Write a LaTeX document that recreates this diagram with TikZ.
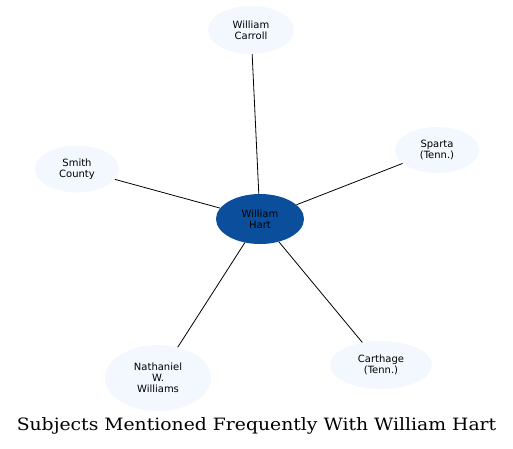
\documentclass[tikz,border=0pt]{standalone}
\usepackage{fontspec}
\newfontfamily\labelfont{DejaVu Sans}
\newfontfamily\titlefont{DejaVu Serif}
\usetikzlibrary{shapes.geometric}
\definecolor{hubblue}{HTML}{0B4F9C}
\definecolor{leaffill}{HTML}{F3F7FE}
\tikzset{
  leaf/.style={ellipse, fill=leaffill, draw=none, inner sep=0pt, align=center,
    font=\labelfont\fontsize{10}{10.8}\selectfont, text=black},
  hub/.style={leaf, fill=hubblue},
  link/.style={draw=black, line width=0.8pt}
}
\begin{document}
\begin{tikzpicture}[x=1pt,y=-1pt]
\useasboundingbox (0,0) rectangle (513,448);
\node[hub, minimum width=88pt, minimum height=50pt] (hart) at (260,219) {William\\Hart};
\node[leaf, minimum width=86pt, minimum height=48pt] (carroll) at (251,30) {William\\Carroll};
\node[leaf, minimum width=84pt, minimum height=47pt] (smith) at (77,169) {Smith\\County};
\node[leaf, minimum width=84pt, minimum height=46pt] (sparta) at (437,150) {Sparta\\(Tenn.)};
\node[leaf, minimum width=106pt, minimum height=66pt] (nathaniel) at (158,378) {Nathaniel\\W.\\Williams};
\node[leaf, minimum width=102pt, minimum height=48pt] (carthage) at (381,365) {Carthage\\(Tenn.)};
\draw[link] (hart) -- (carroll);
\draw[link] (hart) -- (smith);
\draw[link] (hart) -- (sparta);
\draw[link] (hart) -- (nathaniel);
\draw[link] (hart) -- (carthage);
\node[font=\titlefont\fontsize{17}{20}\selectfont, anchor=base, inner sep=0pt] (title) at (256.5,430.5) {\scalebox{1.105}[1]{Subjects Mentioned Frequently With William Hart}};
\end{tikzpicture}
\end{document}
